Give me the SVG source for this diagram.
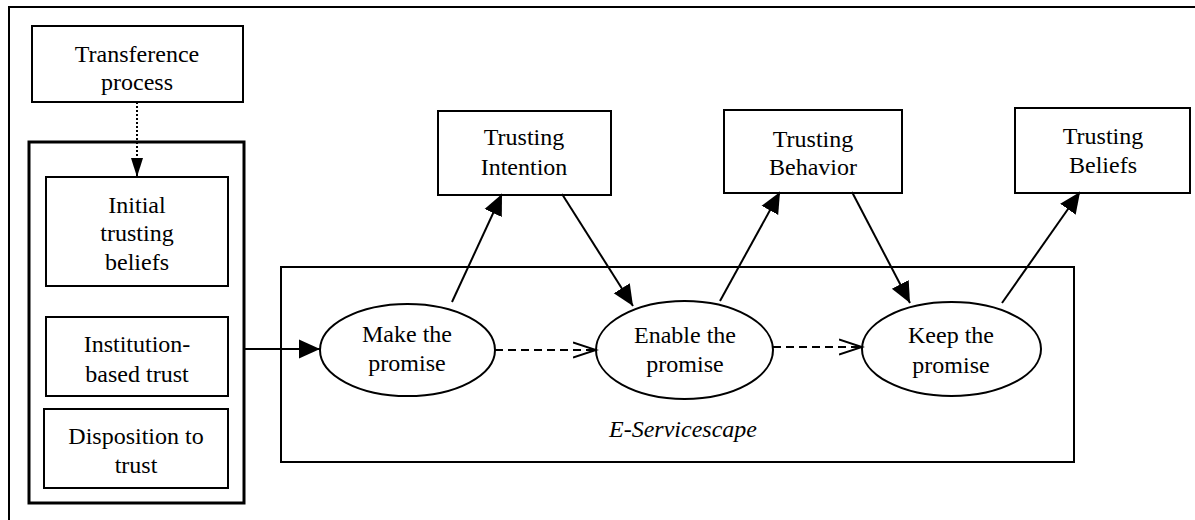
<svg xmlns="http://www.w3.org/2000/svg" width="1195" height="520" viewBox="0 0 1195 520">
<style>
text{font-family:"Liberation Serif","Times New Roman",serif;font-size:24px;fill:#000;text-anchor:middle}
.box{fill:#fff;stroke:#000;stroke-width:2}
.ell{fill:#fff;stroke:#000;stroke-width:2}
.conn{stroke:#000;stroke-width:2;fill:none}
</style>
<defs>
<marker id="solid" markerUnits="userSpaceOnUse" markerWidth="24" markerHeight="22" refX="21" refY="11" orient="auto">
<path d="M0,1.5 L21,11 L0,20.5 Z" fill="#000"/>
</marker>
<marker id="small" markerUnits="userSpaceOnUse" markerWidth="22" markerHeight="16" refX="19" refY="8" orient="auto">
<path d="M0,2 L19,8 L0,14 Z" fill="#000"/>
</marker>
<marker id="open" markerUnits="userSpaceOnUse" markerWidth="26" markerHeight="20" refX="23" refY="10" orient="auto">
<path d="M0,2.5 L23,10 L0,17.5" fill="none" stroke="#000" stroke-width="2"/>
</marker>
</defs>
<rect width="1195" height="520" fill="#fff"/>
<rect x="9" y="7" width="1200" height="530" fill="none" stroke="#000" stroke-width="2"/>

<g id="eservicescape">
<rect x="281" y="267" width="793" height="195" fill="none" stroke="#000" stroke-width="2"/>
<text x="683" y="437" font-style="italic">E-Servicescape</text>
</g>

<g id="transference">
<rect class="box" x="32" y="26" width="211" height="76"/>
<text x="137" y="62">Transference</text>
<text x="137" y="90">process</text>
</g>

<g id="antecedents">
<rect x="29" y="142" width="215" height="361" fill="#fff" stroke="#000" stroke-width="3"/>
</g>

<g id="initial">
<rect class="box" x="46" y="177" width="182" height="109"/>
<text x="137" y="213">Initial</text>
<text x="137" y="241">trusting</text>
<text x="137" y="270">beliefs</text>
</g>

<g id="institution">
<rect class="box" x="46" y="317" width="182" height="79"/>
<text x="137" y="352">Institution-</text>
<text x="137" y="382">based trust</text>
</g>

<g id="disposition">
<rect class="box" x="44" y="409" width="184" height="79"/>
<text x="136" y="444">Disposition to</text>
<text x="136" y="473">trust</text>
</g>

<g id="intention">
<rect class="box" x="438" y="111" width="173" height="84"/>
<text x="524" y="145">Trusting</text>
<text x="524" y="175">Intention</text>
</g>

<g id="behavior">
<rect class="box" x="724" y="110" width="178" height="83"/>
<text x="813" y="147">Trusting</text>
<text x="813" y="175">Behavior</text>
</g>

<g id="beliefs">
<rect class="box" x="1015" y="108" width="175" height="85"/>
<text x="1103" y="144">Trusting</text>
<text x="1103" y="173">Beliefs</text>
</g>

<g id="make">
<ellipse class="ell" cx="407.5" cy="350" rx="87.5" ry="46"/>
<text x="407" y="342">Make the</text>
<text x="407" y="371">promise</text>
</g>

<g id="enable">
<ellipse class="ell" cx="684.5" cy="350" rx="88.5" ry="49"/>
<text x="685" y="343">Enable the</text>
<text x="685" y="372">promise</text>
</g>

<g id="keep">
<ellipse class="ell" cx="951.5" cy="349" rx="89.5" ry="47"/>
<text x="951" y="343">Keep the</text>
<text x="951" y="373">promise</text>
</g>

<g id="connectors">
<line class="conn" x1="137" y1="102" x2="137" y2="177" stroke-dasharray="2,2" marker-end="url(#small)"/>
<line class="conn" x1="244" y1="349" x2="320" y2="349" marker-end="url(#solid)"/>
<line class="conn" x1="495" y1="350" x2="596" y2="350" stroke-dasharray="8,5" marker-end="url(#open)"/>
<line class="conn" x1="773" y1="347" x2="862" y2="347" stroke-dasharray="8,5" marker-end="url(#open)"/>
<line class="conn" x1="452" y1="302" x2="502" y2="194" marker-end="url(#solid)"/>
<line class="conn" x1="562" y1="194" x2="633" y2="306" marker-end="url(#solid)"/>
<line class="conn" x1="720" y1="301" x2="780" y2="192" marker-end="url(#solid)"/>
<line class="conn" x1="852" y1="192" x2="910" y2="303" marker-end="url(#solid)"/>
<line class="conn" x1="1002" y1="303" x2="1080" y2="192" marker-end="url(#solid)"/>
</g>
</svg>
